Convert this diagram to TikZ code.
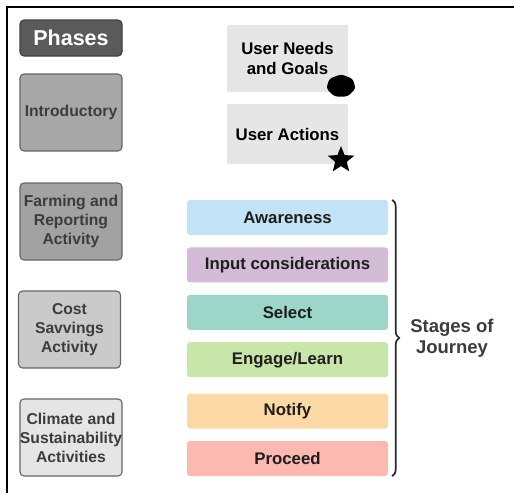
\documentclass[tikz,border=0pt]{standalone}
\usepackage{fontspec}
\setmainfont{Liberation Sans}
\usepackage{xcolor}
\usetikzlibrary{positioning,shapes.geometric,decorations.pathreplacing}

\definecolor{headgray}{HTML}{5A5A5A}
\definecolor{introgray}{HTML}{A7A7A7}
\definecolor{farmgray}{HTML}{A2A2A2}
\definecolor{costgray}{HTML}{CACACA}
\definecolor{climgray}{HTML}{E5E5E5}
\definecolor{usergray}{HTML}{E6E6E6}
\definecolor{phasetext}{HTML}{3C3C3C}
\definecolor{stagetext}{HTML}{1E1E1E}
\definecolor{awareblue}{HTML}{C1E3F5}
\definecolor{inputlilac}{HTML}{D3BCD6}
\definecolor{selectteal}{HTML}{9BD6C9}
\definecolor{engagegreen}{HTML}{C8E6AA}
\definecolor{notifyorange}{HTML}{FDD9A6}
\definecolor{proceedred}{HTML}{FBB9B0}

\tikzset{
  every node/.style={font=\bfseries\fontsize{16.8}{19.5}\selectfont},
  phase/.style={draw=black!60, line width=1.1pt, rounded corners=4pt, align=center,
    minimum width=102pt, minimum height=77pt, inner sep=0pt, text=phasetext,
    font=\bfseries\fontsize{15.7}{19}\selectfont},
  userbox/.style={fill=usergray, rounded corners=2pt, align=center,
    minimum width=121pt, inner sep=0pt},
  stage/.style={rounded corners=3pt, minimum width=201pt, minimum height=35pt,
    inner sep=0pt, text=stagetext},
  symbol/.style={fill=black, inner sep=0pt}
}

\begin{document}
\begin{tikzpicture}[x=1pt, y=-1pt, node distance=12pt]
\useasboundingbox (0,0) rectangle (514,493);

% frame lines
\draw[line width=2pt] (514,7) -- (7,7) -- (7,493);

% phases column
\node[phase, fill=headgray, draw=black!75, minimum height=36pt, text=white,
  font=\bfseries\fontsize{21.5}{24}\selectfont] (phases) at (71,38) {Phases};
\node[phase, fill=introgray] (intro) at (71,112.5) {Introductory};
\node[phase, fill=farmgray] (farm) at (71,221.5) {Farming and\\Reporting\\Activity};
\node[phase, fill=costgray] (cost) at (69.5,329.5) {Cost\\Savvings\\Activity};
\node[phase, fill=climgray] (clim) at (71,437.5) {Climate and\\Sustainability\\Activities};

% legend boxes
\node[userbox, minimum height=67pt] (needs) at (287.5,58.5) {User Needs\\and Goals};
\node[userbox, minimum height=60pt] (actions) at (287.5,134) {User Actions};
\node[symbol, regular polygon, regular polygon sides=7, minimum size=30pt,
  rounded corners=3pt, yscale=0.78, transform shape] (needmark) at (341,86) {};
\node[symbol, star, star points=5, star point ratio=2.3, minimum size=28pt]
  (actmark) at (341,160) {};

% stages of the journey
\node[stage, fill=awareblue] (aware) at (287.5,217.5) {Awareness};
\node[stage, fill=inputlilac, below=of aware] (input) {Input considerations};
\node[stage, fill=selectteal, below=of input] (select) {Select};
\node[stage, fill=engagegreen, below=of select] (engage) {Engage/Learn};
\node[stage, fill=notifyorange, below=16pt of engage] (notify) {Notify};
\node[stage, fill=proceedred, below=of notify] (proceed) {Proceed};

\coordinate (bracetop) at ([xshift=4pt]aware.north east);
\coordinate (bracebot) at ([xshift=4pt]proceed.south east);
\draw[decorate, decoration={brace, amplitude=7pt}, line width=1.7pt, black!85]
  (bracetop) -- (bracebot);
\node[text=phasetext, align=center, font=\bfseries\fontsize{18.5}{21}\selectfont]
  (journey) at (452,338) {Stages of\\Journey};

\end{tikzpicture}
\end{document}
